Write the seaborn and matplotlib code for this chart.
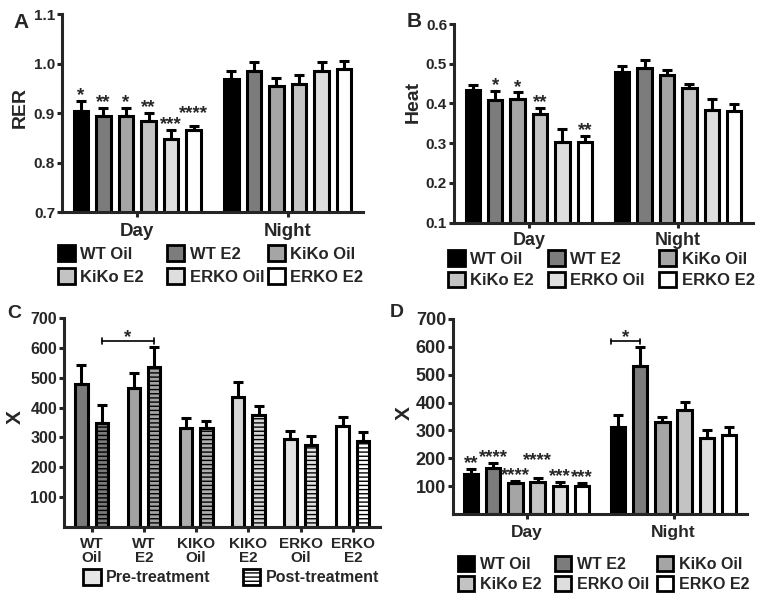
import matplotlib
matplotlib.use('Agg')
import matplotlib.pyplot as plt
import seaborn as sns
import numpy as np
import pandas as pd
from matplotlib.patches import Patch

# groups shared by panels A, B and D
groups = ['WT Oil', 'WT E2', 'KiKo Oil', 'KiKo E2', 'ERKO Oil', 'ERKO E2']
periods = ['Day', 'Night']
group_colors = ['#000000', '#7c7c7c', '#a5a5a5', '#c3c3c3', '#dedede', '#ffffff']

# panel A - RER (mean, upper SEM)
rer_day = [0.905, 0.895, 0.895, 0.884, 0.848, 0.866]
rer_day_err = [0.020, 0.016, 0.016, 0.017, 0.018, 0.009]
rer_night = [0.970, 0.985, 0.955, 0.959, 0.985, 0.990]
rer_night_err = [0.015, 0.018, 0.016, 0.019, 0.018, 0.015]
rer_day_stars = ['*', '**', '*', '**', '***', '****']

# panel B - Heat
heat_day = [0.434, 0.408, 0.411, 0.373, 0.304, 0.302]
heat_day_err = [0.012, 0.024, 0.017, 0.015, 0.033, 0.017]
heat_night = [0.479, 0.489, 0.471, 0.439, 0.383, 0.380]
heat_night_err = [0.016, 0.021, 0.013, 0.011, 0.028, 0.018]
heat_day_stars = ['', '*', '*', '**', '', '**']

# panel C - X activity, pre vs post treatment
c_groups = ['WT\nOil', 'WT\nE2', 'KIKO\nOil', 'KIKO\nE2', 'ERKO\nOil', 'ERKO\nE2']
c_colors = ['#7a7a7a', '#a2a2a2', '#adadad', '#d6d6d6', '#e2e2e2', '#ffffff']
treatments = ['Pre-treatment', 'Post-treatment']
x_pre = [480, 466, 330, 436, 295, 338]
x_pre_err = [63, 50, 35, 51, 25, 31]
x_post = [347, 536, 331, 374, 276, 287]
x_post_err = [60, 67, 24, 31, 30, 30]

# panel D - X activity, day vs night
x_day = [142, 164, 110, 116, 100, 100]
x_day_err = [19, 19, 9, 12, 15, 12]
x_night = [312, 533, 329, 372, 274, 283]
x_night_err = [43, 68, 21, 31, 28, 30]
x_day_stars = ['**', '****', '****', '****', '***', '***']

W, H = 762, 607
LW = 2.2
STAR = 13.5
STAR_DY = 0.5

sns.set_style('ticks')
plt.rcParams['font.family'] = ['Liberation Sans', 'DejaVu Sans']
plt.rcParams['font.weight'] = 'bold'
plt.rcParams['hatch.linewidth'] = 1.0


def px_rect(left, top, right, bottom):
    """Axes rect from pixel edges of the spines."""
    return [left / W, 1 - bottom / H, (right - left) / W, (bottom - top) / H]


def sorted_bars(ax):
    return sorted(ax.patches, key=lambda p: p.get_x())


def style_axis(ax, yticks, ylim, xlim, ysize, xsize, xpad):
    sns.despine(ax=ax)
    for s in ['left', 'bottom']:
        ax.spines[s].set_linewidth(LW)
    ax.set_xlim(*xlim)
    ax.set_ylim(*ylim)
    ax.set_yticks(yticks)
    ax.set_xlabel('')
    ax.set_ylabel('')
    ax.tick_params(axis='y', length=3.5, width=LW, pad=1.5, labelsize=ysize)
    ax.tick_params(axis='x', length=3.5, width=LW, pad=xpad, labelsize=xsize)


def add_errors(ax, bars, errs):
    xs = [b.get_x() + b.get_width() / 2 for b in bars]
    tops = [b.get_height() for b in bars]
    ax.errorbar(xs, tops, yerr=[np.zeros(len(errs)), errs], fmt='none', ecolor='black',
                elinewidth=LW, capsize=3.6, capthick=LW, zorder=3)


def add_stars(ax, bars, errs, stars, lift=None):
    for i, (b, e, s) in enumerate(zip(bars, errs, stars)):
        if not s:
            continue
        dy = STAR_DY + (lift[i] if lift else 0)
        ax.annotate(s, (b.get_x() + b.get_width() / 2, b.get_height() + e),
                    xytext=(0, dy), textcoords='offset points', ha='center',
                    va='baseline', fontsize=STAR, fontweight='bold')


def day_night_panel(ax, day, night):
    df = pd.DataFrame({'period': np.repeat(periods, len(groups)),
                       'group': groups * 2,
                       'value': day + night})
    sns.barplot(data=df, x='period', y='value', hue='group', order=periods,
                hue_order=groups, palette=group_colors, saturation=1, width=0.9,
                gap=0.36, edgecolor='black', linewidth=LW, errorbar=None,
                legend=False, ax=ax)
    return sorted_bars(ax)


def add_bracket(ax, x1, x2, y, tick):
    ax.plot([x1, x2], [y, y], color='black', lw=1.2)
    ax.plot([x1, x1], [y - tick, y + tick], color='black', lw=1.2)
    ax.plot([x2, x2], [y - tick, y + tick], color='black', lw=1.2)
    ax.annotate('*', ((x1 + x2) / 2, y), xytext=(0, STAR_DY - 1), textcoords='offset points',
                ha='center', va='baseline', fontsize=STAR, fontweight='bold')


def add_group_legend(fig, x_px, y_px, size, spacing):
    handles = [Patch(facecolor=c, edgecolor='black', linewidth=2) for c in group_colors]
    for col in range(3):
        idx = [col, col + 3]
        fig.legend([handles[i] for i in idx], [groups[i] for i in idx],
                   loc='center left', bbox_to_anchor=(x_px[col] / W, 1 - y_px / H),
                   frameon=False, fontsize=size, handlelength=1.0, handleheight=1.05,
                   handletextpad=0.35, labelspacing=spacing, borderpad=0,
                   borderaxespad=0)


fig = plt.figure(figsize=(W / 100, H / 100), dpi=100)

# ---- A: RER
axA = fig.add_axes(px_rect(62, 14.3, 363, 212.3))
bars = day_night_panel(axA, rer_day, rer_night)
add_errors(axA, bars, rer_day_err + rer_night_err)
add_stars(axA, bars[:6], rer_day_err, rer_day_stars, lift=[0, 0, 0, 0, 0, 5])
style_axis(axA, [0.7, 0.8, 0.9, 1.0, 1.1], (0.7, 1.1), (-0.5, 1.5), 11, 13.5, 4.5)
axA.set_yticklabels(['0.7', '0.8', '0.9', '1.0', '1.1'])
add_group_legend(fig, [58, 167, 268], 265, 12, 0.4)
fig.text(20 / W, 1 - 107 / H, 'RER', rotation=90, ha='center', va='center', fontsize=14)
fig.text(13 / W, 1 - 28 / H, 'A', fontsize=15, va='baseline')

# ---- B: Heat
axB = fig.add_axes(px_rect(454, 24, 753, 222.7))
bars = day_night_panel(axB, heat_day, heat_night)
add_errors(axB, bars, heat_day_err + heat_night_err)
add_stars(axB, bars[:6], heat_day_err, heat_day_stars)
style_axis(axB, [0.1, 0.2, 0.3, 0.4, 0.5, 0.6], (0.1, 0.6), (-0.5, 1.5), 11, 13, 3)
axB.set_yticklabels(['0.1', '0.2', '0.3', '0.4', '0.5', '0.6'])
add_group_legend(fig, [448, 548, 659], 269, 12, 0.3)
fig.text(413 / W, 1 - 102 / H, 'Heat', rotation=90, ha='center', va='center', fontsize=14)
fig.text(407 / W, 1 - 27 / H, 'B', fontsize=15, va='baseline')

# ---- C: pre/post treatment
axC = fig.add_axes(px_rect(64, 318, 380, 527))
dfC = pd.DataFrame({'group': c_groups * 2,
                    'treatment': np.repeat(treatments, len(c_groups)),
                    'value': x_pre + x_post})
sns.barplot(data=dfC, x='group', y='value', hue='treatment', order=c_groups,
            hue_order=treatments, palette=['#ffffff', '#ffffff'], saturation=1,
            width=0.785, gap=0.40, edgecolor='black', linewidth=LW, errorbar=None,
            legend=False, ax=axC)
barsC = sorted_bars(axC)
for i, b in enumerate(barsC):
    b.set_facecolor(c_colors[i // 2])
    if i % 2 == 1:
        b.set_hatch('----')
errC = [e for pair in zip(x_pre_err, x_post_err) for e in pair]
add_errors(axC, barsC, errC)
style_axis(axC, [100, 200, 300, 400, 500, 600, 700], (0, 700), (-0.53, 5.52), 11.5, 11, 4)
for lab in axC.get_xticklabels():
    lab.set_linespacing(0.95)
# significance bracket WT Oil post vs WT E2 post
add_bracket(axC, barsC[1].get_x() + barsC[1].get_width() / 2,
            barsC[3].get_x() + barsC[3].get_width() / 2, 623, 10)
fig.legend([Patch(facecolor='#e6e6e6', edgecolor='black', linewidth=2),
            Patch(facecolor='#ffffff', edgecolor='black', linewidth=2, hatch='----')],
           treatments, loc='center left', bbox_to_anchor=(83 / W, 1 - 577 / H),
           ncol=2, frameon=False, fontsize=11.5, handlelength=1.1, handleheight=1.15,
           handletextpad=0.35, columnspacing=2.0, borderpad=0, borderaxespad=0)
fig.text(15 / W, 1 - 417 / H, 'X', rotation=90, ha='center', va='center', fontsize=15)
fig.text(7 / W, 1 - 318 / H, 'C', fontsize=14, va='baseline')

# ---- D: day/night activity
axD = fig.add_axes(px_rect(453, 319, 747, 514))
bars = day_night_panel(axD, x_day, x_night)
add_errors(axD, bars, x_day_err + x_night_err)
add_stars(axD, bars[:6], x_day_err, x_day_stars, lift=[0, 0, 0, 9, 0, 0])
style_axis(axD, [100, 200, 300, 400, 500, 600, 700], (0, 700), (-0.5, 1.5), 13, 12.5, 4.5)
add_bracket(axD, bars[6].get_x(), bars[7].get_x() + bars[7].get_width() / 2, 620, 10)
add_group_legend(fig, [458, 555, 657], 574, 11.5, 0.3)
fig.text(404 / W, 1 - 413 / H, 'X', rotation=90, ha='center', va='center', fontsize=15)
fig.text(390 / W, 1 - 317 / H, 'D', fontsize=14, va='baseline')

fig.savefig('out.png', dpi=100)
